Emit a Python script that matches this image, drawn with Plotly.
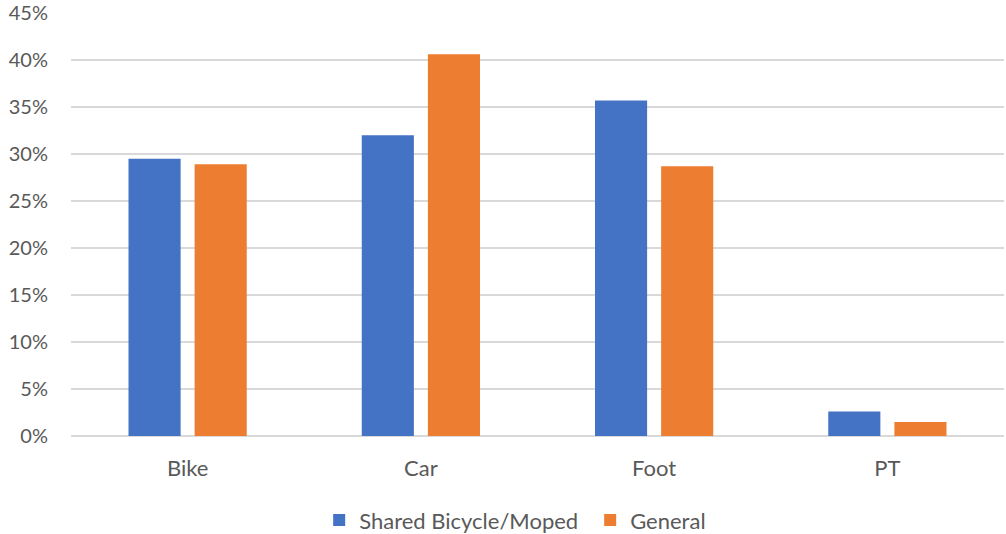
import plotly.graph_objects as go

categories = ["Bike", "Car", "Foot", "PT"]
shared_values = [0.295, 0.320, 0.357, 0.026]
general_values = [0.289, 0.406, 0.287, 0.015]
y_ticks = [0, 0.05, 0.10, 0.15, 0.20, 0.25, 0.30, 0.35, 0.40, 0.45]
y_tick_labels = ["0%", "5%", "10%", "15%", "20%", "25%", "30%", "35%", "40%", "45%"]

font_family = "Lato, 'Open Sans', sans-serif"
text_color = "#595959"

fig = go.Figure()
fig.add_trace(go.Bar(name="Shared Bicycle/Moped", x=categories, y=shared_values,
                     marker=dict(color="#4472C4", line=dict(width=0))))
fig.add_trace(go.Bar(name="General", x=categories, y=general_values,
                     marker=dict(color="#ED7D31", line=dict(width=0))))

fig.update_layout(
    width=1006, height=534,
    margin=dict(l=71, r=2, t=13, b=98, autoexpand=False),
    paper_bgcolor="white", plot_bgcolor="white",
    barmode="group", bargap=0.433, bargroupgap=0.212,
    font=dict(family=font_family, size=20, color=text_color),
    showlegend=True,
    legend=dict(orientation="h", x=0.266, xanchor="left", y=-0.199, yanchor="middle",
                font=dict(size=22, color=text_color), itemwidth=30,
                entrywidth=226, entrywidthmode="pixels",
                traceorder="normal"),
    xaxis=dict(showgrid=False, showline=False, ticks="", ticklabelstandoff=17,
               tickfont=dict(size=22, color=text_color)),
    yaxis=dict(range=[0, 0.45], tickvals=y_ticks, ticktext=y_tick_labels,
               showgrid=True, gridcolor="#d9d9d9", gridwidth=1.5,
               zeroline=True, zerolinecolor="#d9d9d9", zerolinewidth=1.5,
               showline=False, ticks="", ticklabelstandoff=22,
               tickfont=dict(size=20, color=text_color)),
)

fig.write_html("out.html")
